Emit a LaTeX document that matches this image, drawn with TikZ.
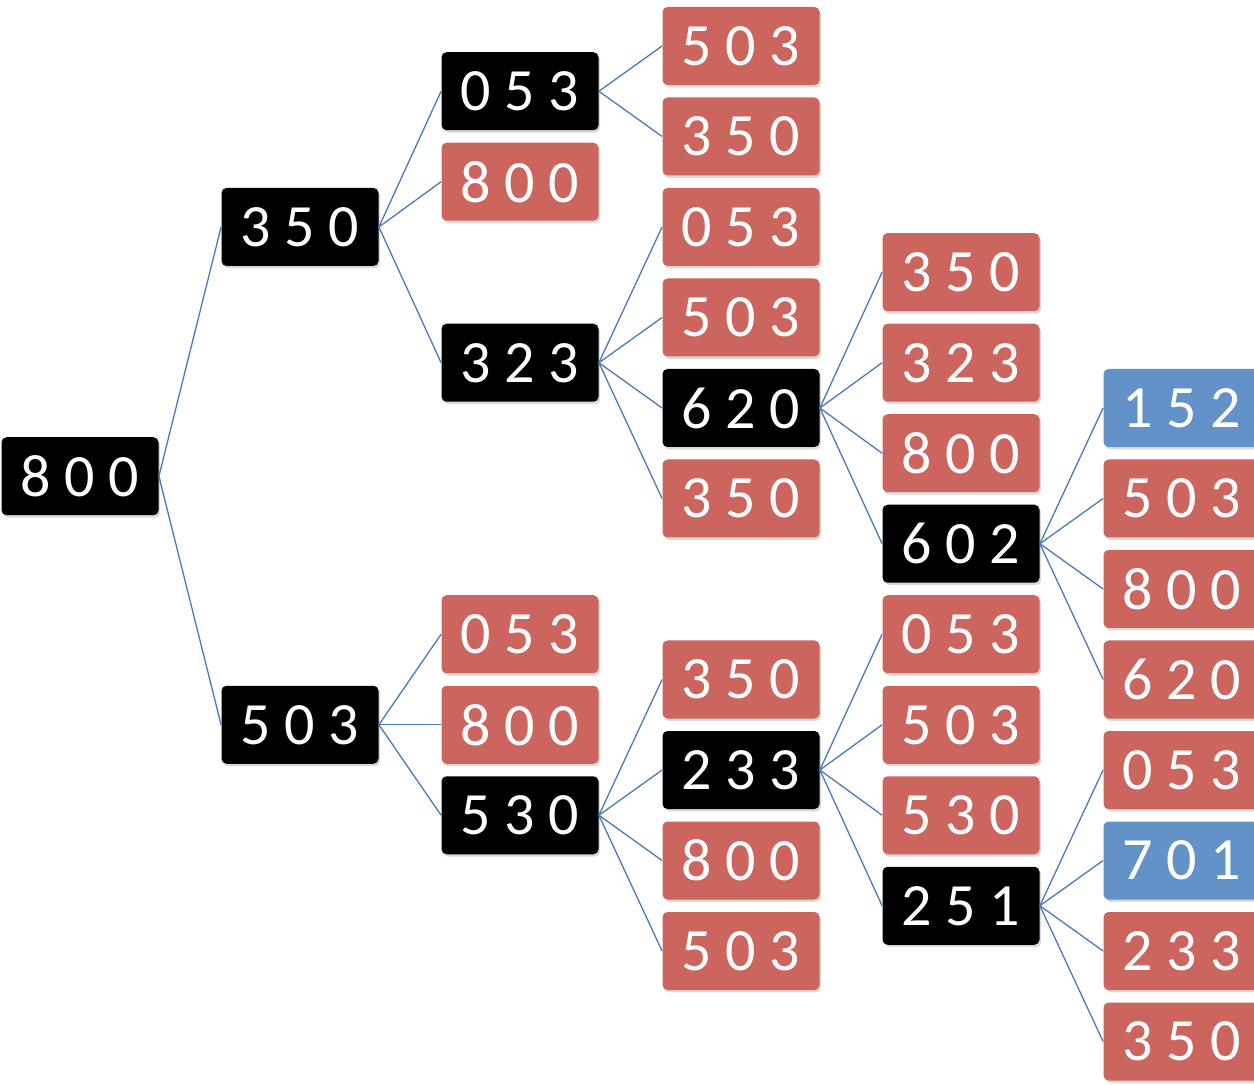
\documentclass[tikz,border=0pt]{standalone}
\usepackage{fontspec}
\setmainfont{Carlito}
\usetikzlibrary{shadows}
\definecolor{deadred}{RGB}{204,101,94}
\definecolor{goalblue}{RGB}{98,146,200}
\definecolor{edgeblue}{RGB}{74,123,184}

\begin{document}
\begin{tikzpicture}[x=0.5pt,y=-0.5pt,
    state/.style={rectangle, rounded corners=2.5pt, minimum width=78.5pt, minimum height=39pt,
                  inner sep=0pt, text=white, font=\fontsize{30}{36}\selectfont,
                  drop shadow={opacity=0.3, shadow xshift=0.8pt, shadow yshift=-1.2pt}},
    open/.style={state, fill=black},
    dead/.style={state, fill=deadred},
    goal/.style={state, fill=goalblue},
    edge/.style={draw=edgeblue, line width=0.65pt}]
       \clip (0,0) rectangle (1254,1085);

       % root and first level
       \node[open](n800) at (80,476.25) {8 0 0};
       \node[open](a350) at (300,227) {3 5 0};
       \node[open](a503) at (300,724.75) {5 0 3};
       \draw[edge] (n800.east) -- (a350.west);
       \draw[edge] (n800.east) -- (a503.west);

       % upper branch
       \node[open](b053) at (520,91.25) {0 5 3};
       \node[dead](b800) at (520,181.75) {8 0 0};
       \node[open](b323) at (520,362.75) {3 2 3};
       \draw[edge] (a350.east) -- (b053.west);
       \draw[edge] (a350.east) -- (b800.west);
       \draw[edge] (a350.east) -- (b323.west);

       \node[dead](d503) at (741,46) {5 0 3};
       \node[dead](d350) at (741,136.5) {3 5 0};
       \draw[edge] (b053.east) -- (d503.west);
       \draw[edge] (b053.east) -- (d350.west);

       \node[dead](d053) at (741,227) {0 5 3};
       \node[dead](d503b) at (741,317.5) {5 0 3};
       \node[open](d620) at (741,408) {6 2 0};
       \node[dead](d350b) at (741,498.5) {3 5 0};
       \draw[edge] (b323.east) -- (d053.west);
       \draw[edge] (b323.east) -- (d503b.west);
       \draw[edge] (b323.east) -- (d620.west);
       \draw[edge] (b323.east) -- (d350b.west);

       \node[dead](f350) at (961,272.25) {3 5 0};
       \node[dead](f323) at (961,362.75) {3 2 3};
       \node[dead](f800) at (961,453.25) {8 0 0};
       \node[open](f602) at (961,543.75) {6 0 2};
       \draw[edge] (d620.east) -- (f350.west);
       \draw[edge] (d620.east) -- (f323.west);
       \draw[edge] (d620.east) -- (f800.west);
       \draw[edge] (d620.east) -- (f602.west);

       \node[goal](h152) at (1182,408) {1 5 2};
       \node[dead](h503) at (1182,498.5) {5 0 3};
       \node[dead](h800) at (1182,589) {8 0 0};
       \node[dead](h620) at (1182,679.5) {6 2 0};
       \draw[edge] (f602.east) -- (h152.west);
       \draw[edge] (f602.east) -- (h503.west);
       \draw[edge] (f602.east) -- (h800.west);
       \draw[edge] (f602.east) -- (h620.west);

       % lower branch
       \node[dead](c053) at (520,634.25) {0 5 3};
       \node[dead](c800) at (520,724.75) {8 0 0};
       \node[open](c530) at (520,815.25) {5 3 0};
       \draw[edge] (a503.east) -- (c053.west);
       \draw[edge] (a503.east) -- (c800.west);
       \draw[edge] (a503.east) -- (c530.west);

       \node[dead](e350) at (741,679.5) {3 5 0};
       \node[open](e233) at (741,770) {2 3 3};
       \node[dead](e800) at (741,860.5) {8 0 0};
       \node[dead](e503) at (741,951) {5 0 3};
       \draw[edge] (c530.east) -- (e350.west);
       \draw[edge] (c530.east) -- (e233.west);
       \draw[edge] (c530.east) -- (e800.west);
       \draw[edge] (c530.east) -- (e503.west);

       \node[dead](g053) at (961,634.25) {0 5 3};
       \node[dead](g503) at (961,724.75) {5 0 3};
       \node[dead](g530) at (961,815.25) {5 3 0};
       \node[open](g251) at (961,905.75) {2 5 1};
       \draw[edge] (e233.east) -- (g053.west);
       \draw[edge] (e233.east) -- (g503.west);
       \draw[edge] (e233.east) -- (g530.west);
       \draw[edge] (e233.east) -- (g251.west);

       \node[dead](i053) at (1182,770) {0 5 3};
       \node[goal](i701) at (1182,860.5) {7 0 1};
       \node[dead](i233) at (1182,951) {2 3 3};
       \node[dead](i350) at (1182,1041.5) {3 5 0};
       \draw[edge] (g251.east) -- (i053.west);
       \draw[edge] (g251.east) -- (i701.west);
       \draw[edge] (g251.east) -- (i233.west);
       \draw[edge] (g251.east) -- (i350.west);
\end{tikzpicture}
\end{document}
